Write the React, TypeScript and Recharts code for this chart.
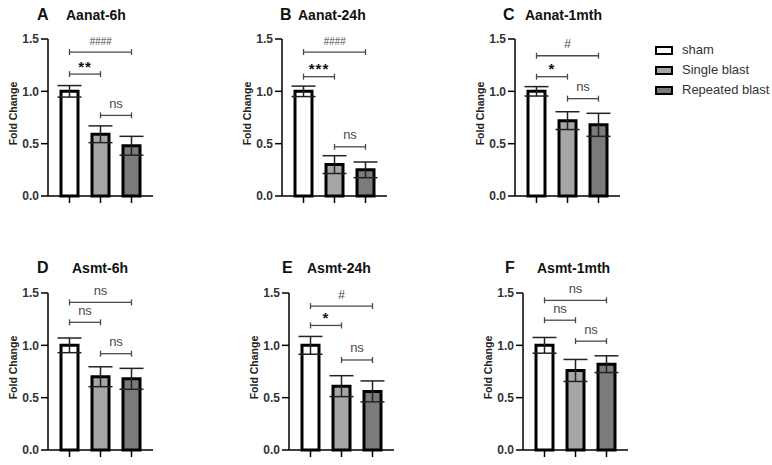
import React from 'react';
import { BarChart, Bar, XAxis, YAxis, ErrorBar, Cell, ReferenceLine } from 'recharts';

// ---------- data ----------
const groups = ['sham', 'Single blast', 'Repeated blast'];
const groupFills = ['#ffffff', '#a6a6a6', '#7b7b7b'];
const yTicks = [0, 0.5, 1.0, 1.5];

const panelLetters = ['A', 'B', 'C', 'D', 'E', 'F'];
const panelTitles = ['Aanat-6h', 'Aanat-24h', 'Aanat-1mth', 'Asmt-6h', 'Asmt-24h', 'Asmt-1mth'];

const meanA = [1.0, 0.59, 0.48];
const errA = [0.055, 0.08, 0.09];
const meanB = [1.0, 0.3, 0.25];
const errB = [0.05, 0.085, 0.075];
const meanC = [1.0, 0.72, 0.68];
const errC = [0.045, 0.085, 0.11];
const meanD = [1.0, 0.7, 0.68];
const errD = [0.07, 0.095, 0.1];
const meanE = [1.0, 0.61, 0.56];
const errE = [0.085, 0.1, 0.1];
const meanF = [1.0, 0.76, 0.82];
const errF = [0.075, 0.105, 0.08];

// comparisons: sham vs repeated, sham vs single, single vs repeated
const sigPairs: [number, number][] = [[0, 2], [0, 1], [1, 2]];
const sigTextA = ['####', '**', 'ns'];
const sigLevelA = [1.375, 1.165, 0.77];
const sigTextB = ['####', '***', 'ns'];
const sigLevelB = [1.375, 1.14, 0.47];
const sigTextC = ['#', '*', 'ns'];
const sigLevelC = [1.34, 1.14, 0.93];
const sigTextD = ['ns', 'ns', 'ns'];
const sigLevelD = [1.41, 1.22, 0.92];
const sigTextE = ['#', '*', 'ns'];
const sigLevelE = [1.375, 1.19, 0.86];
const sigTextF = ['ns', 'ns', 'ns'];
const sigLevelF = [1.43, 1.24, 1.04];

const allMeans = [meanA, meanB, meanC, meanD, meanE, meanF];
const allErrs = [errA, errB, errC, errD, errE, errF];
const allSigText = [sigTextA, sigTextB, sigTextC, sigTextD, sigTextE, sigTextF];
const allSigLevel = [sigLevelA, sigLevelB, sigLevelC, sigLevelD, sigLevelE, sigLevelF];

// ---------- layout ----------
const axisXs = [48, 282, 515, 48, 289, 523];
const chartTops = [0, 0, 0, 254, 254, 254];
const letterXs = [37, 280, 503, 37, 282, 505];
const titleXs = [66, 298, 525, 72, 307, 537];
const titleYs = [15, 15, 15, 268, 268, 268];

const FONT = '"Liberation Sans", Arial, Helvetica, sans-serif';
const Y_AXIS_W = 48;
const PLOT_W = 105;

function YLabel(props: any) {
  const vb = props.viewBox || {};
  const cx = (vb.x ?? 0) + 13;
  const cy = (vb.y ?? 0) + (vb.height ?? 0) / 2 - 4;
  return (
    <text
      x={cx}
      y={cy}
      transform={`rotate(-90 ${cx} ${cy})`}
      textAnchor="middle"
      dominantBaseline="central"
      fontSize={10.5}
      fontWeight="bold"
      fill="#222"
      fontFamily={FONT}
    >
      Fold Change
    </text>
  );
}

function Bracket(props: any) {
  const { x1, y1, x2, text } = props;
  const isStar = text.indexOf('*') >= 0;
  const isHash = text.indexOf('#') >= 0;
  const fs = isStar ? 15 : isHash ? (text.length > 1 ? 10 : 12) : 13;
  const dy = isStar ? -2.5 : -7.5;
  return (
    <g>
      <line x1={x1} y1={y1} x2={x2} y2={y1} stroke="#4a4a4a" strokeWidth={1.3} />
      <line x1={x1} y1={y1 - 3} x2={x1} y2={y1 + 3} stroke="#4a4a4a" strokeWidth={1.3} />
      <line x1={x2} y1={y1 - 3} x2={x2} y2={y1 + 3} stroke="#4a4a4a" strokeWidth={1.3} />
      <text
        x={(x1 + x2) / 2}
        y={y1 + dy}
        textAnchor="middle"
        fontSize={fs}
        fontWeight={isStar ? 'bold' : 'normal'}
        fontStyle={isHash && text.length > 1 ? 'italic' : 'normal'}
        letterSpacing={isStar ? 1 : 0}
        fill={isStar ? '#111' : '#4a4a4a'}
        stroke="none"
        fontFamily={FONT}
      >
        {text}
      </text>
    </g>
  );
}

function Panel({ idx }: { idx: number }) {
  const means = allMeans[idx];
  const errs = allErrs[idx];
  const data = groups.map((g, i) => ({ group: g, mean: means[i], err: errs[i] }));
  const chartLeft = axisXs[idx] - Y_AXIS_W;
  return (
    <div style={{ position: 'absolute', left: chartLeft, top: chartTops[idx] }}>
      <BarChart
        width={Y_AXIS_W + PLOT_W}
        height={206}
        data={data}
        margin={{ top: 39, right: 0, left: 0, bottom: 0 }}
      >
        <XAxis
          dataKey="group"
          height={10}
          padding={{ left: 6, right: 6 }}
          tickSize={7}
          tickFormatter={() => ''}
          axisLine={{ stroke: '#000', strokeWidth: 1.5 }}
          tickLine={{ stroke: '#000', strokeWidth: 1.5 }}
        />
        <YAxis
          width={Y_AXIS_W}
          domain={[0, 1.5]}
          ticks={yTicks}
          interval={0}
          tickFormatter={(v: number) => v.toFixed(1)}
          tickSize={7}
          tickMargin={2}
          axisLine={{ stroke: '#000', strokeWidth: 1.5 }}
          tickLine={{ stroke: '#000', strokeWidth: 1.5 }}
          tick={{ fontSize: 12, fontWeight: 'bold', fill: '#333', fontFamily: FONT }}
          label={(p: any) => <YLabel {...p} />}
        />
        <Bar dataKey="mean" barSize={17} stroke="#000" strokeWidth={3} isAnimationActive={false}>
          {data.map((d, i) => (
            <Cell key={d.group} fill={groupFills[i]} />
          ))}
          <ErrorBar dataKey="err" width={12} stroke="#222" strokeWidth={1.5} isAnimationActive={false} />
        </Bar>
        {sigPairs.map(([a, b], k) => (
          <ReferenceLine
            key={k}
            segment={[
              { x: groups[a], y: allSigLevel[idx][k] },
              { x: groups[b], y: allSigLevel[idx][k] },
            ]}
            ifOverflow="visible"
            shape={(sp: any) => <Bracket {...sp} text={allSigText[idx][k]} />}
          />
        ))}
      </BarChart>
    </div>
  );
}

function Titles() {
  return (
    <>
      {panelLetters.map((L, i) => (
        <div
          key={L}
          style={{
            position: 'absolute',
            left: letterXs[i],
            top: titleYs[i] - 9,
            fontFamily: FONT,
            fontWeight: 'bold',
            fontSize: 16,
            lineHeight: '18px',
            color: '#111',
            whiteSpace: 'nowrap',
          }}
        >
          {L}
        </div>
      ))}
      {panelTitles.map((t, i) => (
        <div
          key={t}
          style={{
            position: 'absolute',
            left: titleXs[i],
            top: titleYs[i] - 8,
            fontFamily: FONT,
            fontWeight: 'bold',
            fontSize: 14,
            lineHeight: '16px',
            color: '#111',
            whiteSpace: 'nowrap',
          }}
        >
          {t}
        </div>
      ))}
    </>
  );
}

function LegendBox() {
  const rowYs = [50, 70, 90];
  return (
    <>
      {groups.map((g, i) => (
        <div key={g} style={{ position: 'absolute', left: 655, top: rowYs[i] - 8, height: 16, display: 'flex', alignItems: 'center' }}>
          <div
            style={{
              width: 18,
              height: 9,
              boxSizing: 'border-box',
              border: '2px solid #000',
              background: groupFills[i],
            }}
          />
          <span
            style={{
              marginLeft: 9,
              fontFamily: FONT,
              fontSize: 13,
              color: '#333',
              whiteSpace: 'nowrap',
              lineHeight: '16px',
            }}
          >
            {g}
          </span>
        </div>
      ))}
    </>
  );
}

export default function App() {
  return (
    <div style={{ position: 'absolute', left: 0, top: 0, width: 772, height: 465, background: '#fff', overflow: 'hidden' }}>
      {panelLetters.map((_, i) => (
        <Panel key={i} idx={i} />
      ))}
      <Titles />
      <LegendBox />
    </div>
  );
}
